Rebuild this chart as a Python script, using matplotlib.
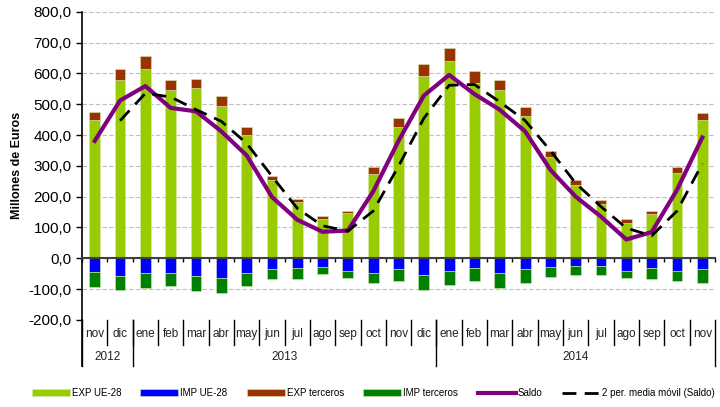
import matplotlib
matplotlib.use("Agg")
import matplotlib.pyplot as plt
import matplotlib.ticker as mticker
import numpy as np
import pandas as pd

plt.rcParams['font.family'] = ['Liberation Sans', 'DejaVu Sans']

# months nov 2012 .. nov 2014
meses = ['nov', 'dic',
         'ene', 'feb', 'mar', 'abr', 'may', 'jun', 'jul', 'ago', 'sep', 'oct', 'nov', 'dic',
         'ene', 'feb', 'mar', 'abr', 'may', 'jun', 'jul', 'ago', 'sep', 'oct', 'nov']
anios = ['2012', '2013', '2014']
meses_por_anio = [2, 12, 11]

exp_ue = [448, 580, 615, 546, 553, 495, 401, 253, 184, 129, 147, 274, 426, 591,
          639, 570, 546, 461, 328, 239, 175, 115, 143, 278, 448]
exp_terceros = [27, 35, 42, 33, 30, 31, 24, 13, 8, 9, 7, 22, 30, 40,
                43, 38, 34, 30, 19, 14, 13, 11, 10, 19, 24]
imp_ue = [-43, -56, -49, -49, -59, -64, -49, -36, -33, -28, -40, -49, -36, -53,
          -40, -33, -49, -36, -29, -25, -25, -40, -33, -40, -36]
imp_terceros = [-51, -47, -49, -42, -47, -50, -42, -31, -34, -24, -24, -30, -39, -50,
                -47, -42, -49, -43, -31, -28, -28, -25, -35, -35, -44]

exp_ue = np.array(exp_ue)
exp_terceros = np.array(exp_terceros)
imp_ue = np.array(imp_ue)
imp_terceros = np.array(imp_terceros)
saldo = exp_ue + exp_terceros + imp_ue + imp_terceros
media = pd.Series(saldo).rolling(2).mean()

x = np.arange(len(meses))
w = 0.43

fig = plt.figure(figsize=(7.2, 4.07), dpi=100)
ax = fig.add_axes([0.114, 0.214, 0.879, 0.757])

edge = dict(edgecolor='#d8e8b0', linewidth=0.4)
h1 = ax.bar(x, exp_ue, w, color='#99cc00', label='EXP UE-28', zorder=2, **edge)
h2 = ax.bar(x, imp_ue, w, color='#0000ff', label='IMP UE-28', zorder=2, **edge)
h3 = ax.bar(x, exp_terceros, w, bottom=exp_ue, color='#993300', label='EXP terceros', zorder=2, **edge)
h4 = ax.bar(x, imp_terceros, w, bottom=imp_ue, color='#008000', label='IMP terceros', zorder=2, **edge)
h5, = ax.plot(x, saldo, color='#800080', lw=3, label='Saldo', zorder=3)
h6, = ax.plot(x, media, color='black', lw=2, ls=(0, (5, 3)), label='2 per. media móvil (Saldo)', zorder=4)

ax.set_xlim(-0.5, len(meses) - 0.5)
ax.set_ylim(-200, 800)
ax.yaxis.set_major_locator(mticker.MultipleLocator(100))
ax.yaxis.set_major_formatter(mticker.FuncFormatter(lambda v, p: f'{v:.1f}'.replace('.', ',')))
ax.tick_params(axis='y', labelsize=11, length=4, width=1, direction='out')
ax.grid(axis='y', color='#c0c0c0', ls=(0, (4, 2)), lw=0.8, zorder=0)

for s in ['top', 'right']:
    ax.spines[s].set_visible(False)
ax.spines['left'].set_linewidth(1.2)
ax.spines['bottom'].set_position(('data', 0))
ax.spines['bottom'].set_color('#404040')
ax.spines['bottom'].set_linewidth(1.5)
ax.spines['bottom'].set_zorder(5)
ax.set_xticks(np.arange(len(meses) + 1) - 0.5)
ax.set_xticklabels([])
ax.tick_params(axis='x', length=3, width=1, direction='out', color='black')

ax.set_ylabel('Millones de Euros', fontsize=9, fontweight='bold', labelpad=4)

# multi-level category axis below the plot
tr = ax.get_xaxis_transform()
for i, m in enumerate(meses):
    ax.text(i, -0.045, m, transform=tr, ha='center', va='center', fontsize=8.5, color='#222222')
for b in range(1, len(meses)):
    ax.plot([b - 0.5, b - 0.5], [0, -0.08], transform=tr, color='black', lw=1, clip_on=False)
start = 0
for a, n in zip(anios, meses_por_anio):
    ax.text(start + n / 2 - 0.5, -0.122, a, transform=tr, ha='center', va='center',
            fontsize=8.5, color='#222222')
    ax.plot([start - 0.5, start - 0.5], [0, -0.15], transform=tr, color='black', lw=1, clip_on=False)
    start += n
ax.plot([start - 0.5, start - 0.5], [0, -0.15], transform=tr, color='black', lw=1, clip_on=False)
ax.plot([-0.5, -0.5], [0, -0.15], transform=tr, color='black', lw=1.2, clip_on=False)

fig.legend([h1, h2, h3, h4, h5, h6],
           ['EXP UE-28', 'IMP UE-28', 'EXP terceros', 'IMP terceros', 'Saldo',
            '2 per. media móvil (Saldo)'],
           loc='center', bbox_to_anchor=(0.518, 0.034), ncol=6, frameon=False,
           fontsize=7, handlelength=3.9, handletextpad=0.2, columnspacing=2.0)

fig.savefig('out.png', dpi=100)
